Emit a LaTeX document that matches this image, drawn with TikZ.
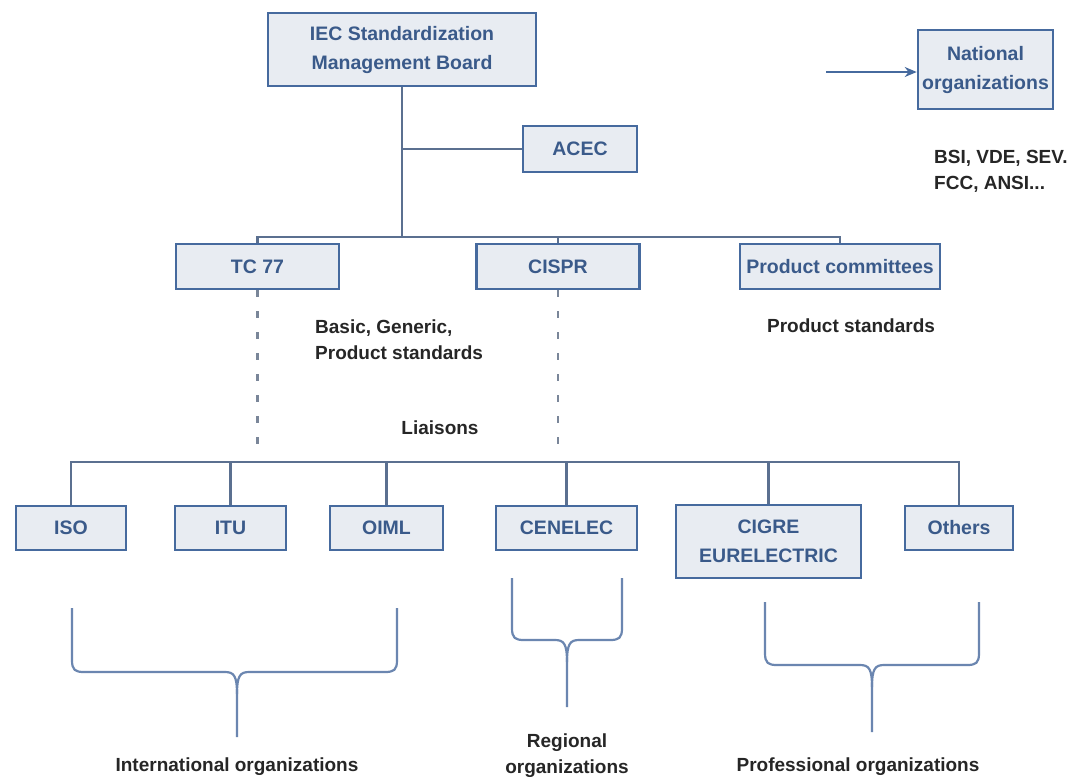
\documentclass[tikz,border=0pt]{standalone}
\usepackage{fontspec}
\setmainfont{Liberation Sans}
\usetikzlibrary{arrows.meta}
\definecolor{boxfill}{HTML}{E8ECF2}
\definecolor{boxdraw}{HTML}{466A9E}
\definecolor{boxtext}{HTML}{3A5A8A}
\definecolor{conn}{HTML}{5B7090}
\definecolor{dashc}{HTML}{7A8699}
\definecolor{bracec}{HTML}{6B86B0}
\definecolor{txt}{HTML}{262626}
\newcommand{\draworgbrace}[6]{%
  \draw[brace] (#1,#3) -- (#1,#4-12) .. controls (#1,#4-2) and (#1+3,#4) .. (#1+12,#4) -- (#6-12,#4) .. controls (#6-3,#4) and (#6,#4+4) .. (#6,#4+22) -- (#6,#5);
  \draw[brace] (#2,#3) -- (#2,#4-12) .. controls (#2,#4-2) and (#2-3,#4) .. (#2-12,#4) -- (#6+12,#4) .. controls (#6+3,#4) and (#6,#4+4) .. (#6,#4+22);
}
\begin{document}
\begin{tikzpicture}[x=1pt,y=-1pt,
  orgbox/.style={draw=boxdraw, fill=boxfill, line width=2.6pt, inner sep=0pt, text=boxtext, font=\fontsize{19.5}{29}\selectfont\bfseries, align=center},
  lbl/.style={text=txt, font=\fontsize{19}{26}\selectfont\bfseries, inner sep=0pt},
  link/.style={draw=conn, line width=2.2pt},
  liaison/.style={draw=dashc, line width=2.2pt, dash pattern=on 7pt off 14pt},
  brace/.style={draw=bracec, line width=2.2pt},
]
\useasboundingbox (0,0) rectangle (1076,782);
\fill[white] (0,0) rectangle (1076,782);

% top level
\node[orgbox, minimum width=268pt, minimum height=73pt] (iec) at (402,49.5) {IEC Standardization\\Management Board};
\node[orgbox, minimum width=114pt, minimum height=46pt] (acec) at (580,149) {ACEC};
\node[orgbox, minimum width=135pt, minimum height=79pt] (nat) at (985.5,69.5) {National\\organizations};
\coordinate (natin) at (826,72);

% second level
\node[orgbox, minimum width=163pt, minimum height=45pt] (tc) at (257.5,266.5) {TC 77};
\node[orgbox, minimum width=163pt, minimum height=45pt] (cispr) at (558,266.5) {CISPR};
\node[orgbox, minimum width=200pt, minimum height=45pt] (pc) at (840,266.5) {Product committees};
\coordinate (bus1) at (402,237);

% third level
\node[orgbox, minimum width=110pt, minimum height=44pt] (iso) at (71,528) {ISO};
\node[orgbox, minimum width=111pt, minimum height=44pt] (itu) at (230.5,528) {ITU};
\node[orgbox, minimum width=113pt, minimum height=44pt] (oiml) at (386.5,528) {OIML};
\node[orgbox, minimum width=141pt, minimum height=44pt] (cenelec) at (566.5,528) {CENELEC};
\node[orgbox, minimum width=185pt, minimum height=73pt] (cigre) at (768.5,541.5) {CIGRE\\EURELECTRIC};
\node[orgbox, minimum width=108pt, minimum height=44pt] (others) at (959,528) {Others};
\coordinate (bus2) at (500,462);
\coordinate (lend) at (0,452);

% connectors
\draw[link] (iec.south) -- (bus1);
\draw[link] (iec.south |- acec.west) -- (acec.west);
\draw[link] (tc.north) |- (bus1) -| (pc.north);
\draw[link] (cispr.north) -- (cispr.north |- bus1);
\draw[draw=boxdraw, line width=2.6pt, -{Stealth[length=12pt,width=10pt]}] (natin) -- (nat.west |- natin);

\draw[liaison] (tc.south) -- (tc.south |- lend);
\draw[liaison] (cispr.south) -- (cispr.south |- lend);

\draw[link] (iso.north) |- (bus2) -| (others.north);
\draw[link] (itu.north) -- (itu.north |- bus2);
\draw[link] (oiml.north) -- (oiml.north |- bus2);
\draw[link] (cenelec.north) -- (cenelec.north |- bus2);
\draw[link] (cigre.north) -- (cigre.north |- bus2);

% labels
\node[lbl, align=left, anchor=west] (bgp) at (315,340) {Basic, Generic,\\Product standards};
\node[lbl] (ps) at (851,326) {Product standards};
\node[lbl] (lia) at (440,428) {Liaisons};
\node[lbl, align=left, anchor=west] (bsi) at (934,171.5) {BSI, VDE, SEV.\\FCC, ANSI...};

% braces
\draworgbrace{72}{397}{608}{672}{737}{237}
\draworgbrace{512}{622}{578}{640}{707}{567}
\draworgbrace{765}{979}{602}{665}{732}{872}

\node[lbl] (intl) at (237,767) {International organizations};
\node[lbl, align=center] (reg) at (567,756) {Regional\\organizations};
\node[lbl] (prof) at (858,767) {Professional organizations};
\end{tikzpicture}
\end{document}
